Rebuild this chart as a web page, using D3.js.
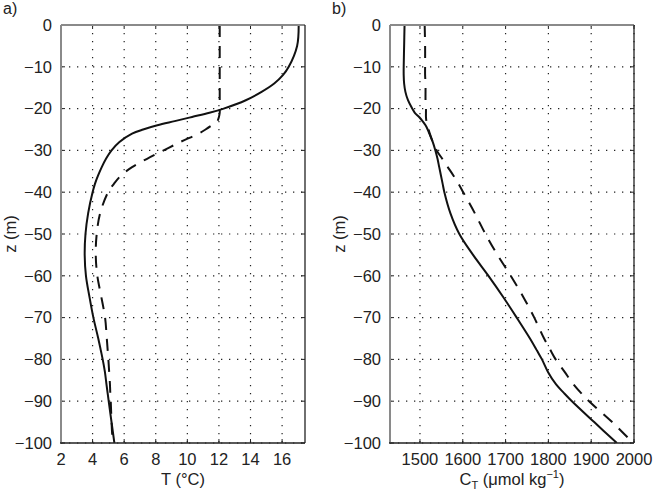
<!DOCTYPE html>
<html>
<head>
<meta charset="utf-8">
<script src="https://cdn.jsdelivr.net/npm/d3@7"></script>
<style>
body { margin: 0; background: #fff; }
svg { font-family: "Liberation Sans", Arial, Helvetica, sans-serif; }
</style>
</head>
<body>
<div id="chart"></div>
<script>
// depth levels (m) shared by all four profiles
var depths = [0, -5, -10, -12, -14, -16, -18, -20, -21, -22, -23, -24, -25, -26, -28, -30,
    -32, -34, -36, -38, -40, -45, -50, -55, -60, -65, -70, -75, -78, -80, -83, -86, -88, -90, -95, -100];

// panel a) temperature (°C)
var tempSolid = [17.05, 16.95, 16.42, 16.05, 15.5, 14.7, 13.7, 12.3, 11.4, 10.3, 9.2, 8.1, 7.2, 6.5, 5.7, 5.2,
    4.85, 4.58, 4.35, 4.15, 4.0, 3.72, 3.55, 3.5, 3.58, 3.8, 4.05, 4.36, 4.53, 4.64, 4.78, 4.88, 4.95, 5.02, 5.2, 5.38];
var tempDashed = [12.05, 12.05, 12.05, 12.05, 12.05, 12.05, 12.05, 12.05, 12.05, 12.0, 11.9, 11.55, 11.15, 10.7, 9.55, 8.5,
    7.45, 6.5, 5.8, 5.35, 4.98, 4.48, 4.26, 4.2, 4.3, 4.55, 4.79, 4.9, 4.96, 5.0, 5.05, 5.1, 5.12, 5.15, 5.2, 5.27];

// panel b) total carbon C_T (umol/kg)
var carbonSolid = [1464, 1463, 1462, 1462, 1463, 1466, 1472, 1482, 1488, 1498, 1506, 1513, 1518, 1522, 1530, 1536,
    1541, 1545, 1549, 1553, 1557, 1571, 1592, 1624, 1660, 1694, 1726, 1757, 1774, 1785, 1799, 1818, 1836, 1855, 1907, 1960];
var carbonDashed = [1511, 1512, 1512, 1512, 1513, 1513, 1513, 1514, 1514, 1514, 1515, 1517, 1520, 1523, 1530, 1539,
    1552, 1565, 1578, 1590, 1601, 1628, 1653, 1681, 1712, 1741, 1767, 1790, 1806, 1817, 1838, 1859, 1876, 1895, 1949, 1998];

var tempTicks = [2, 4, 6, 8, 10, 12, 14, 16];
var carbonTicks = [1500, 1600, 1700, 1800, 1900, 2000];
var depthTicks = [0, -10, -20, -30, -40, -50, -60, -70, -80, -90, -100];

var svg = d3.select('#chart').append('svg')
    .attr('width', 654)
    .attr('height', 494);

function profile(values) {
    return depths.map(function (z, i) { return { z: z, v: values[i] }; });
}

function drawPanel(p) {
    var x = d3.scaleLinear().domain(p.xDomain).range([p.left, p.right]);
    var y = d3.scaleLinear().domain([0, -100]).range([p.top, p.bottom]);
    var g = svg.append('g');

    // dotted grid
    g.selectAll('.vgrid').data(p.xTicks).enter().append('line')
        .attr('x1', function (d) { return x(d); }).attr('x2', function (d) { return x(d); })
        .attr('y1', p.top).attr('y2', p.bottom)
        .attr('stroke', '#222').attr('stroke-width', 1.2).attr('stroke-dasharray', '1.3,6.7');
    g.selectAll('.hgrid').data(depthTicks).enter().append('line')
        .attr('y1', function (d) { return y(d); }).attr('y2', function (d) { return y(d); })
        .attr('x1', p.left).attr('x2', p.right)
        .attr('stroke', '#222').attr('stroke-width', 1.2).attr('stroke-dasharray', '1.3,6.7');

    // profiles
    var clipId = 'clip' + p.name;
    svg.append('clipPath').attr('id', clipId).append('rect')
        .attr('x', p.left).attr('y', p.top - 2).attr('width', p.right - p.left).attr('height', p.bottom - p.top + 2);
    var line = d3.line()
        .x(function (d) { return x(d.v); })
        .y(function (d) { return y(d.z); })
        .curve(d3.curveCatmullRom.alpha(0.5));
    g.append('path').datum(profile(p.dashed))
        .attr('d', line).attr('fill', 'none').attr('clip-path', 'url(#' + clipId + ')')
        .attr('stroke', '#111').attr('stroke-width', 2).attr('stroke-dasharray', '12,9');
    g.append('path').datum(profile(p.solid))
        .attr('d', line).attr('fill', 'none').attr('clip-path', 'url(#' + clipId + ')')
        .attr('stroke', '#111').attr('stroke-width', 2);

    // inner ticks on all four sides
    var ticks = g.append('g').attr('stroke', '#222').attr('stroke-width', 1);
    p.xTicks.forEach(function (d) {
        ticks.append('line').attr('x1', x(d)).attr('x2', x(d)).attr('y1', p.bottom).attr('y2', p.bottom - 4);
        ticks.append('line').attr('x1', x(d)).attr('x2', x(d)).attr('y1', p.top).attr('y2', p.top + 4);
    });
    depthTicks.forEach(function (d) {
        ticks.append('line').attr('y1', y(d)).attr('y2', y(d)).attr('x1', p.left).attr('x2', p.left + 4);
        ticks.append('line').attr('y1', y(d)).attr('y2', y(d)).attr('x1', p.right).attr('x2', p.right - 4);
    });

    // frame: grey top/left, dark right/bottom
    g.append('line').attr('x1', p.left).attr('x2', p.right).attr('y1', p.top).attr('y2', p.top)
        .attr('stroke', '#8a8a8a').attr('stroke-width', 2);
    g.append('line').attr('x1', p.left).attr('x2', p.left).attr('y1', p.top).attr('y2', p.bottom)
        .attr('stroke', '#8a8a8a').attr('stroke-width', 2);
    g.append('line').attr('x1', p.right).attr('x2', p.right).attr('y1', p.top).attr('y2', p.bottom)
        .attr('stroke', '#222').attr('stroke-width', 1.3);
    g.append('line').attr('x1', p.left - 1).attr('x2', p.right).attr('y1', p.bottom).attr('y2', p.bottom)
        .attr('stroke', '#222').attr('stroke-width', 1.3);

    // tick labels
    var fmt = d3.format('d');
    g.selectAll('.xlab').data(p.xTicks).enter().append('text')
        .attr('x', function (d) { return x(d); }).attr('y', p.bottom + 22)
        .attr('text-anchor', 'middle').attr('font-size', 16.5).attr('fill', '#222')
        .text(function (d) { return fmt(d); });
    g.selectAll('.ylab').data(depthTicks).enter().append('text')
        .attr('x', p.left - 9).attr('y', function (d) { return y(d); }).attr('dy', '0.35em')
        .attr('text-anchor', 'end').attr('font-size', 16.5).attr('fill', '#222')
        .text(function (d) { return fmt(d); });

    // axis titles and panel letter
    g.append('text')
        .attr('transform', 'translate(' + (p.left - 45) + ',' + ((p.top + p.bottom) / 2) + ') rotate(-90)')
        .attr('text-anchor', 'middle').attr('font-size', 16.5).attr('fill', '#222')
        .text('z (m)');
    var xt = g.append('text')
        .attr('x', (p.left + p.right) / 2).attr('y', p.bottom + 42)
        .attr('text-anchor', 'middle').attr('font-size', 16.5).attr('fill', '#222');
    p.xTitle(xt);
    g.append('text')
        .attr('x', p.left - 58).attr('y', 14)
        .attr('font-size', 16).attr('fill', '#222')
        .text(p.name + ')');
}

drawPanel({
    name: 'a', left: 61, right: 305, top: 25, bottom: 443,
    xDomain: [2, 17.45], xTicks: tempTicks,
    solid: tempSolid, dashed: tempDashed,
    xTitle: function (t) { t.text('T (°C)'); }
});

drawPanel({
    name: 'b', left: 390, right: 634, top: 25, bottom: 443,
    xDomain: [1430, 2000], xTicks: carbonTicks,
    solid: carbonSolid, dashed: carbonDashed,
    xTitle: function (t) {
        t.append('tspan').text('C');
        t.append('tspan').attr('font-size', 11).attr('dy', 4).text('T');
        t.append('tspan').attr('dy', -4).text(' (μmol kg');
        t.append('tspan').attr('font-size', 11).attr('dy', -7).text('−1');
        t.append('tspan').attr('dy', 7).text(')');
    }
});
</script>
</body>
</html>
